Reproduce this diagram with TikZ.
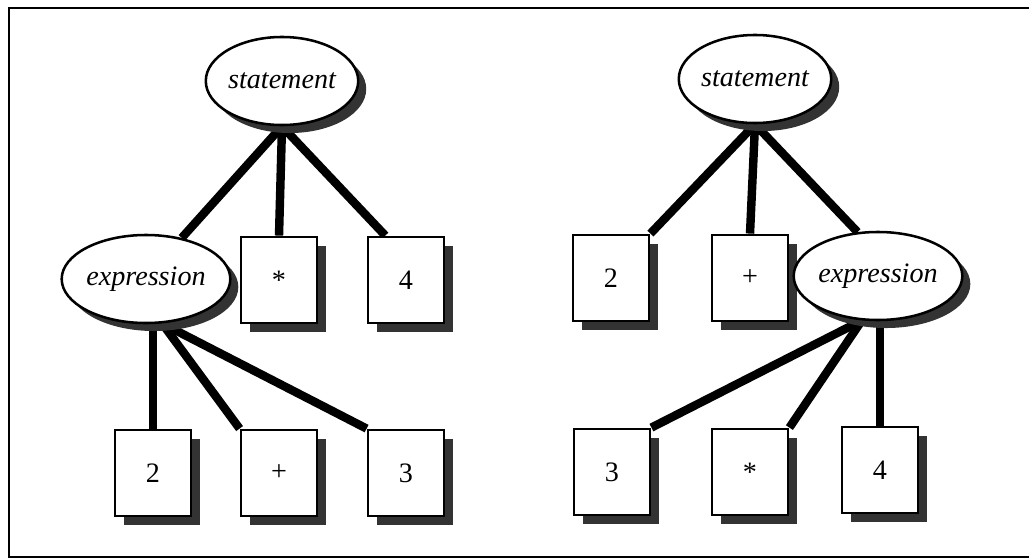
\documentclass[tikz,border=0pt]{standalone}
\usepackage{fontspec}
\setmainfont{Liberation Serif}
\usetikzlibrary{shapes,shadows,backgrounds}

\begin{document}
\begin{tikzpicture}[x=0.025cm,y=-0.025cm]
  \tikzstyle{nonterm}=[ellipse,draw,line width=1.8pt,fill=white,inner sep=0pt,
                       minimum width=3.35cm,minimum height=2.2cm,
                       font=\fontsize{20}{24}\selectfont\itshape,
                       drop shadow={shadow xshift=0.2cm,shadow yshift=-0.2cm,fill=black!80,opacity=1}]
  \tikzstyle{term}=[rectangle,draw,line width=2pt,fill=white,
                    minimum width=1.9cm,minimum height=2.15cm,
                    font=\fontsize{20}{24}\selectfont,
                    drop shadow={shadow xshift=0.22cm,shadow yshift=-0.22cm,fill=black!80,opacity=1}]
  \tikzstyle{branch}=[line width=6pt]
  \useasboundingbox (0,0) rectangle (1029,559);
  \draw[line width=0.8pt] (1029,8) -- (9,8) -- (9,557) -- (1029,557);
  % (2 + 3) * 4
  \node [nonterm] (sa) at (282,81) {statement};
  \node [nonterm] (ea) at (146,279) {expression};
  \node [term] (ta1) at (279,280) {*};
  \node [term] (ta2) at (406,280) {4};
  \node [term] (ta3) at (153,473) {2};
  \node [term] (ta4) at (279,473) {+};
  \node [term] (ta5) at (406,473) {3};
  % 2 + (3 * 4)
  \node [nonterm] (sb) at (755,79) {statement};
  \node [term] (tb1) at (611,278) {2};
  \node [term] (tb2) at (750,278) {+};
  \node [nonterm] (eb) at (878,276) {expression};
  \node [term] (tb3) at (612,472) {3};
  \node [term] (tb4) at (750,472) {*};
  \node [term] (tb5) at (880,470) {4};
  \begin{scope}[on background layer]
    \draw[branch] (sa.south) -- (ea.49);
    \draw[branch] (sa.south) -- (ta1.north);
    \draw[branch] (sa.south) -- (ta2.115);
    \draw[branch] (ea.south -| ta3.north) -- (ta3.north);
    \draw[branch] (ea.-70) -- (ta4.north west);
    \draw[branch] (ea.-70) -- (ta5.north west);
    \draw[branch] (sb.south) -- (tb1.north east);
    \draw[branch] (sb.south) -- (tb2.north);
    \draw[branch] (sb.south) -- (eb.115);
    \draw[branch] (eb.-110) -- (tb3.north east);
    \draw[branch] (eb.-110) -- (tb4.north east);
    \draw[branch] (eb.south -| tb5.north) -- (tb5.north);
  \end{scope}
\end{tikzpicture}
\end{document}
